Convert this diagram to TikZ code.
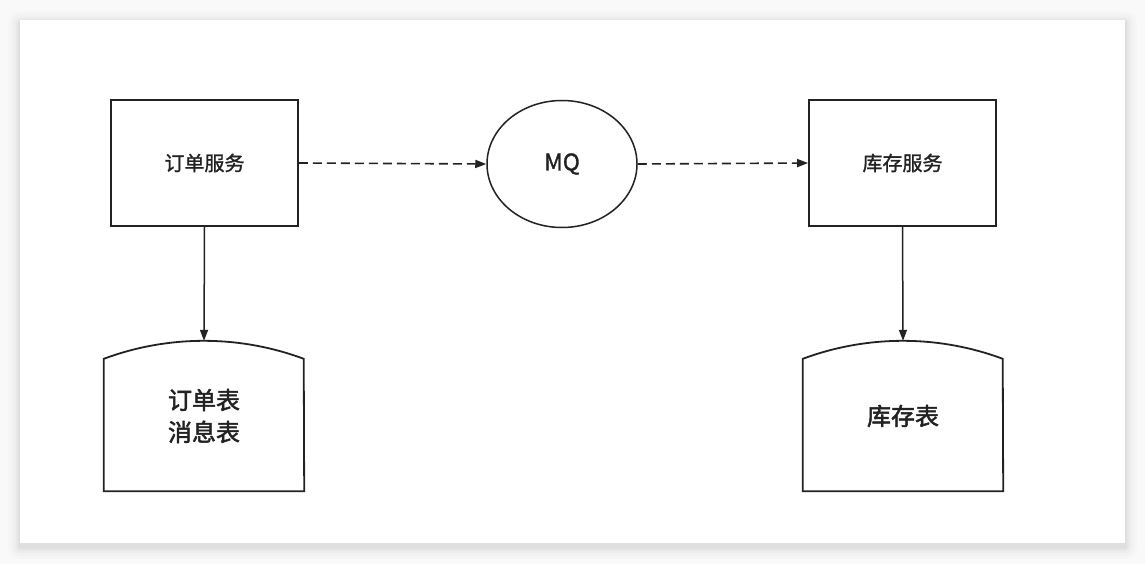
\documentclass[tikz,border=0pt]{standalone}
\usepackage{fontspec}
\newfontfamily\cjk{Noto Sans CJK SC}[FakeBold=1.3]
\newfontfamily\cjkb{Noto Sans CJK SC}[FakeBold=2]
\usetikzlibrary{arrows.meta,shapes.geometric}
\definecolor{ink}{HTML}{222222}
\definecolor{bg}{HTML}{F9F9F9}
\tikzset{
  svcbox/.style={draw=ink, line width=1.8pt, minimum width=187pt, minimum height=126pt, inner sep=0pt, font=\cjk\fontsize{20}{24}\selectfont, text=ink},
  mqnode/.style={draw=ink, line width=1.5pt, ellipse, minimum width=150pt, minimum height=127pt, inner sep=0pt, font=\cjk\fontsize{23}{26}\selectfont, text=ink},
  dbnode/.style={minimum width=200pt, minimum height=150pt, inner sep=0pt, align=center, font=\cjkb\fontsize{24}{32}\selectfont, text=ink},
  dbshape/.style={draw=ink, line width=1.8pt, line join=miter},
  flow/.style={draw=ink, line width=1.6pt, dash pattern=on 9pt off 5pt, -{Triangle[length=11pt,width=8pt]}},
  solidflow/.style={draw=ink, line width=1.5pt, -{Triangle[length=11pt,width=8pt]}}
}
\begin{document}
\begin{tikzpicture}[x=1pt,y=-1pt]
\useasboundingbox (0,0) rectangle (1145,564);
\fill[bg] (0,0) rectangle (1145,564);
% shadow layers
\foreach \d/\o in {12/0.012,9/0.015,6/0.018,4/0.022,2/0.03}{
  \fill[black, opacity=\o, rounded corners=\d pt] (20-\d,20-\d+3) rectangle (1125+\d,544+\d+3);
}
\fill[white] (20,20) rectangle (1125,543);

\node[svcbox] (order) at (204.5,163) {订单服务};
\node[mqnode] (mq) at (562,164) {MQ};
\node[svcbox] (stock) at (902.5,163) {库存服务};

\node[dbnode] (otab) at (204,416) {订单表\\消息表};
\node[dbnode] (stab) at (903,416) {库存表};

% database shapes
\draw[dbshape] (otab.south west) -- ([yshift=-18pt]otab.north west)
  arc[start angle=110.4, end angle=69.6, radius=286.8pt]
  -- (otab.south east) -- cycle;
\draw[dbshape] (stab.south west) -- ([yshift=-18pt]stab.north west)
  arc[start angle=110.4, end angle=69.6, radius=286.8pt]
  -- (stab.south east) -- cycle;

\draw[flow] (order.east) -- (mq.west);
\draw[flow] (mq.east) -- (stock.west);
\draw[solidflow] (order.south) -- (otab.north);
\draw[solidflow] (stock.south) -- (stab.north);
\end{tikzpicture}
\end{document}
